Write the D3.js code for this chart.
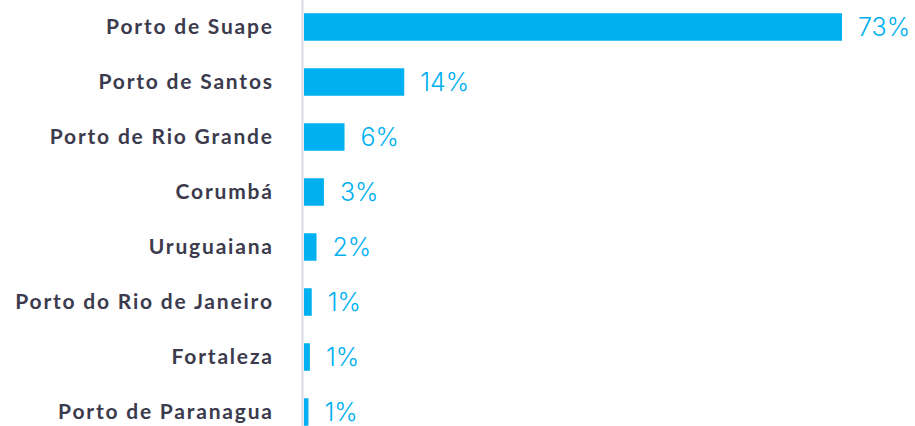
<!DOCTYPE html>
<html>
<head>
<meta charset="utf-8">
<script src="https://cdn.jsdelivr.net/npm/d3@7"></script>
<style>
  body { margin: 0; background: #fff; }
</style>
</head>
<body>
<div id="chart"></div>
<script>
// data
var ports = ["Porto de Suape", "Porto de Santos", "Porto de Rio Grande", "Corumbá",
             "Uruguaiana", "Porto do Rio de Janeiro", "Fortaleza", "Porto de Paranagua"];
var shares = [73, 13.6, 5.5, 2.7, 1.7, 1.05, 0.8, 0.6];
var shareLabels = ["73%", "14%", "6%", "3%", "2%", "1%", "1%", "1%"];

function init() {
    var w = 915;
    var h = 426;
    var svg = d3.select("#chart")
                .append("svg")
                .attr("width", w)
                .attr("height", h);

    var x = d3.scaleLinear()
              .domain([0, 73])
              .range([304, 842]);
    var y = d3.scaleBand()
              .domain(ports)
              .range([-0.5, 439.5])
              .paddingInner(0.5)
              .paddingOuter(0.25);

    //Bars
    svg.selectAll("rect.bar")
        .data(ports)
        .enter()
        .append("rect")
        .attr("class", "bar")
        .attr("x", x(0))
        .attr("y", function(d){ return y(d); })
        .attr("width", function(d, i){ return x(shares[i]) - x(0); })
        .attr("height", y.bandwidth())
        .attr("fill", "#00b0f0");

    //Axis line
    svg.append("line")
        .attr("x1", 302.5).attr("x2", 302.5)
        .attr("y1", 0).attr("y2", h)
        .attr("stroke", "#d9d9e2")
        .attr("stroke-width", 2);

    //Category labels (spaced out a bit like the original)
    svg.selectAll("text.cat")
        .data(ports)
        .enter()
        .append("text")
        .attr("class", "cat")
        .text(function(d){ return d; })
        .attr("x", 273.8)
        .attr("y", function(d){ return y(d) + y.bandwidth() / 2; })
        .attr("dy", "0.35em")
        .attr("text-anchor", "end")
        .style("font-family", "Lato, 'Open Sans', sans-serif")
        .style("font-weight", "bold")
        .style("font-size", "21px")
        .style("letter-spacing", "1.8px")
        .style("fill", "#3b3b4d");

    //Value labels
    svg.selectAll("text.val")
        .data(ports)
        .enter()
        .append("text")
        .attr("class", "val")
        .text(function(d, i){ return shareLabels[i]; })
        .attr("x", function(d, i){ return x(shares[i]) + 16; })
        .attr("y", function(d){ return y(d) + y.bandwidth() / 2; })
        .attr("dy", "0.36em")
        .style("font-family", "Inter, 'Open Sans', sans-serif")
        .style("font-weight", "300")
        .style("font-size", "25px")
        .style("fill", "#00b0f0");
}
window.onload = init;
</script>
</body>
</html>
